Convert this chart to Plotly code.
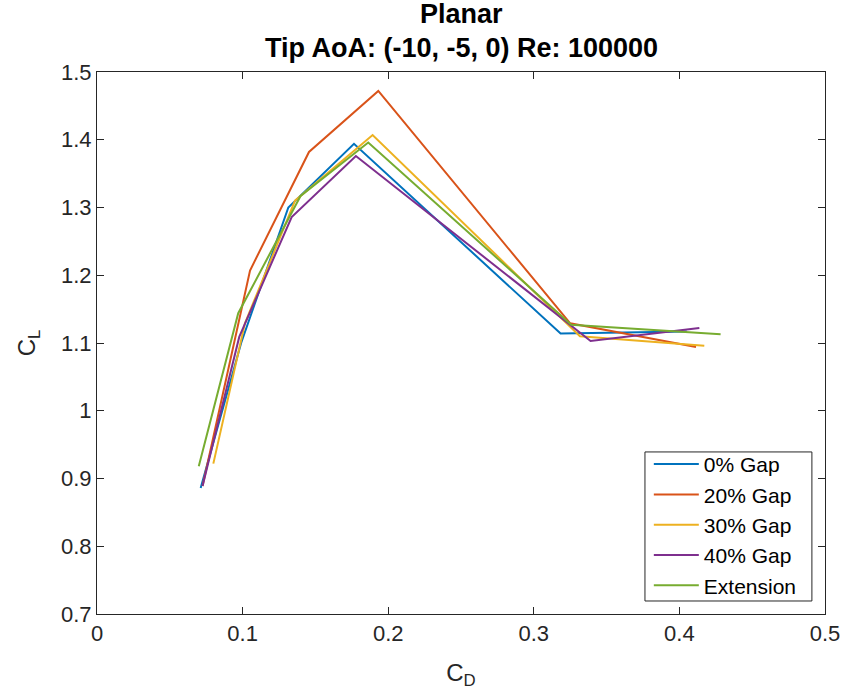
import plotly.graph_objects as go

series_names = ["0% Gap", "20% Gap", "30% Gap", "40% Gap", "Extension"]
colors = ["#0072BD", "#D95319", "#EDB120", "#7E2F8E", "#77AC30"]

cd_gap0 = [0.0712, 0.0990, 0.1314, 0.1765, 0.3184, 0.4050]
cl_gap0 = [0.886, 1.100, 1.300, 1.394, 1.114, 1.117]

cd_gap20 = [0.0725, 0.1051, 0.1456, 0.1932, 0.3250, 0.4114]
cl_gap20 = [0.889, 1.207, 1.382, 1.472, 1.129, 1.094]

cd_gap30 = [0.0799, 0.1016, 0.1360, 0.1893, 0.3317, 0.4171]
cl_gap30 = [0.922, 1.129, 1.310, 1.407, 1.110, 1.096]

cd_gap40 = [0.0725, 0.0977, 0.1337, 0.1778, 0.3390, 0.4137]
cl_gap40 = [0.889, 1.109, 1.286, 1.376, 1.103, 1.122]

cd_ext = [0.0699, 0.0970, 0.1398, 0.1863, 0.3257, 0.4283]
cl_ext = [0.918, 1.144, 1.317, 1.396, 1.127, 1.113]

xs = [cd_gap0, cd_gap20, cd_gap30, cd_gap40, cd_ext]
ys = [cl_gap0, cl_gap20, cl_gap30, cl_gap40, cl_ext]

x_ticks = [0, 0.1, 0.2, 0.3, 0.4, 0.5]
y_ticks = [0.7, 0.8, 0.9, 1.0, 1.1, 1.2, 1.3, 1.4, 1.5]
y_ticktext = ["0.7", "0.8", "0.9", "1", "1.1", "1.2", "1.3", "1.4", "1.5"]

title_lines = ["Planar", "Tip AoA: (-10, -5, 0) Re: 100000"]

FONT = "Liberation Sans, Arial, sans-serif"

fig = go.Figure()
for name, c, x, y in zip(series_names, colors, xs, ys):
    fig.add_trace(go.Scatter(x=x, y=y, mode="lines", name=name,
                             line=dict(color=c, width=2)))

axis_common = dict(showline=True, linecolor="#262626", linewidth=1,
                   mirror="ticks", ticks="inside", ticklen=7,
                   tickcolor="#262626", showgrid=False, zeroline=False,
                   automargin=False,
                   tickfont=dict(family=FONT, size=22, color="#262626"))

fig.update_layout(
    width=843, height=698,
    margin=dict(l=97, r=18, t=72, b=84),
    paper_bgcolor="white", plot_bgcolor="white",
    xaxis=dict(range=[0, 0.5], tickvals=x_ticks,
               title=dict(text="C<sub>D</sub>", standoff=18,
                          font=dict(family=FONT, size=24, color="#262626")),
               **axis_common),
    yaxis=dict(range=[0.7, 1.5], tickvals=y_ticks, ticktext=y_ticktext,
               title=dict(text="C<sub>L</sub>", standoff=18,
                          font=dict(family=FONT, size=24, color="#262626")),
               **axis_common),
    legend=dict(x=0.758, y=0.3137, xanchor="left", yanchor="top",
                borderwidth=0, bgcolor="rgba(0,0,0,0)",
                font=dict(family=FONT, size=21, color="black"),
                tracegroupgap=0, itemwidth=45),
    showlegend=True,
)

# legend frame
fig.add_shape(type="rect", xref="paper", yref="paper",
              x0=0.7527, x1=0.982, y0=0.024, y1=0.299,
              line=dict(color="#262626", width=1), fillcolor="white", layer="above")

fig.add_annotation(text="<b>%s</b>" % title_lines[0], xref="paper", yref="paper",
                   x=0.5, y=1, xanchor="center", yanchor="middle", yshift=58,
                   showarrow=False, font=dict(family=FONT, size=27, color="black"))
fig.add_annotation(text="<b>%s</b>" % title_lines[1], xref="paper", yref="paper",
                   x=0.5, y=1, xanchor="center", yanchor="middle", yshift=24,
                   showarrow=False, font=dict(family=FONT, size=27, color="black"))

fig.write_html("out.html", config={"displayModeBar": False},
               post_script="document.body.style.margin='0px';")
